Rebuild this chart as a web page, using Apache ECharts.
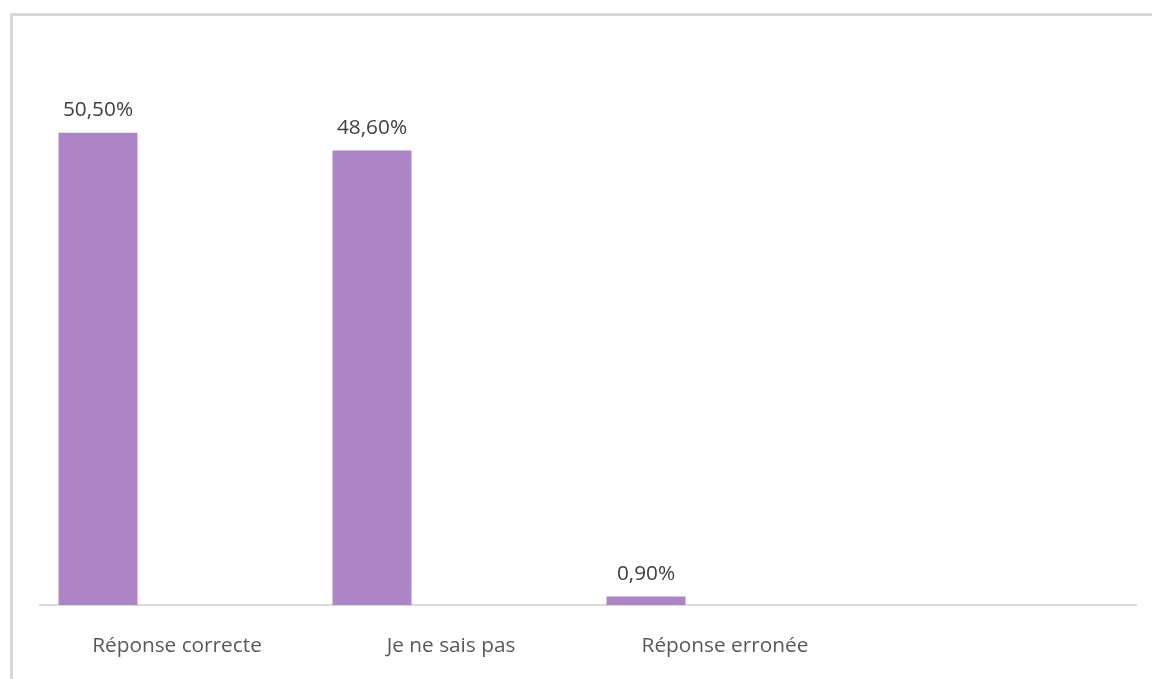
<!DOCTYPE html>
<html>
<head>
<meta charset="utf-8">
<script src="https://cdn.jsdelivr.net/npm/echarts@6/dist/echarts.min.js"></script>
<style>
  html, body { margin: 0; padding: 0; background: #fff; }
  #chart { width: 1152px; height: 679px; }
</style>
</head>
<body>
<div id="chart"></div>
<script>
// Categories along the horizontal axis (the last slot is left empty)
const categories = ['Réponse correcte', 'Je ne sais pas', 'Réponse erronée', ''];
// Share of answers, in percent
const answerShare = [50.5, 48.6, 0.9, null];
// Two further series of the clustered layout carry no values
const emptySeriesA = [null, null, null, null];
const emptySeriesB = [null, null, null, null];

const FONT = '"Open Sans", "Noto Sans", sans-serif';
const BAR = '#AD84C6';

function pct(v) {
  return v.toFixed(2).replace('.', ',') + '%';
}

const chart = echarts.init(document.getElementById('chart'), null, { renderer: 'canvas' });

chart.setOption({
  backgroundColor: '#ffffff',
  animation: false,
  graphic: [{
    type: 'rect',
    shape: { x: 11.5, y: 14.5, width: 1200, height: 720 },
    style: { fill: 'none', stroke: '#D9D9D9', lineWidth: 3 },
    silent: true,
    z: -1
  }],
  grid: { left: 40, right: 16, top: 44, bottom: 74 },
  xAxis: {
    type: 'category',
    data: categories,
    axisLine: { show: true, lineStyle: { color: '#D9D9D9', width: 2 } },
    axisTick: { show: false },
    axisLabel: {
      color: '#595959',
      fontFamily: FONT,
      fontSize: 20.8,
      margin: 31,
      interval: 0
    },
    splitLine: { show: false }
  },
  yAxis: {
    type: 'value',
    min: 0,
    max: 60,
    show: false,
    splitLine: { show: false }
  },
  series: [
    {
      type: 'bar',
      data: answerShare,
      barWidth: 79,
      barGap: '0%',
      itemStyle: { color: BAR },
      label: {
        show: true,
        position: 'top',
        distance: 12,
        color: '#404040',
        fontFamily: FONT,
        fontSize: 20.8,
        formatter: p => (p.value == null ? '' : pct(p.value))
      }
    },
    { type: 'bar', data: emptySeriesA, barWidth: 79, barGap: '0%', itemStyle: { color: BAR } },
    { type: 'bar', data: emptySeriesB, barWidth: 79, barGap: '0%', itemStyle: { color: BAR } }
  ]
});
</script>
</body>
</html>
